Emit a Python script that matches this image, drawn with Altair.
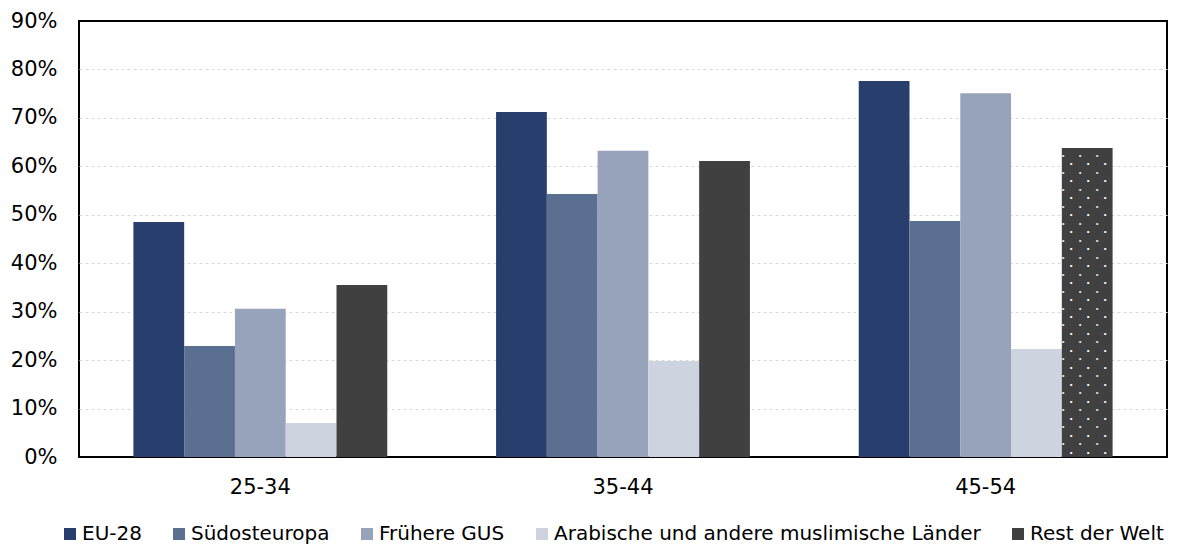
import altair as alt
import pandas as pd

groups = ["25-34", "35-44", "45-54"]
series = ["EU-28", "Südosteuropa", "Frühere GUS",
          "Arabische und andere muslimische Länder", "Rest der Welt"]
colors = ["#283f6e", "#5b6f91", "#96a3bb", "#cdd3df", "#404040"]

eu28 = [48.5, 71.2, 77.6]
suedost = [22.9, 54.3, 48.7]
gus = [30.6, 63.2, 75.1]
arab = [7.0, 19.8, 22.3]
rest = [35.5, 61.1, 63.8]

y_ticks = [0, 10, 20, 30, 40, 50, 60, 70, 80, 90]

# dotted texture marks the last "Rest der Welt" bar
dotted_group = "45-54"
dotted_series = "Rest der Welt"

FONT = "DejaVu Sans"
FS = 21

values = [eu28, suedost, gus, arab, rest]
rows = []
for s, vals in zip(series, values):
    for g, v in zip(groups, vals):
        rows.append({"group": g, "series": s, "value": v})
df = pd.DataFrame(rows)

xenc = alt.X("group:N", sort=groups, title=None,
             scale=alt.Scale(paddingInner=0.3, paddingOuter=0.15),
             axis=alt.Axis(labelAngle=0, labelFontSize=FS, labelFont=FONT,
                           labelColor="#000000", labelPadding=19,
                           ticks=False, domain=False))
xoff = alt.XOffset("series:N", sort=series,
                   scale=alt.Scale(domain=series, paddingInner=0, paddingOuter=0))

bars = alt.Chart(df).mark_bar().encode(
    x=xenc,
    xOffset=xoff,
    y=alt.Y("value:Q", title=None,
            scale=alt.Scale(domain=[0, 90], nice=False),
            axis=alt.Axis(values=y_ticks, labelExpr="datum.value + '%'",
                          labelFontSize=FS, labelFont=FONT, labelColor="#000000",
                          labelPadding=22, ticks=False, domain=False,
                          grid=True, gridColor="#d9d9d9", gridDash=[3, 3],
                          gridWidth=1,
                          gridOpacity={"condition": {"test": "datum.value == 0 || datum.value == 90",
                                                     "value": 0},
                                       "value": 1})),
    color=alt.Color("series:N", sort=series,
                    scale=alt.Scale(domain=series, range=colors),
                    legend=alt.Legend(title=None, orient="none", legendX=-19,
                                      legendY=503, direction="horizontal",
                                      symbolType="square", symbolSize=144,
                                      symbolStrokeWidth=0, labelFontSize=20,
                                      labelFont=FONT, labelColor="#000000",
                                      labelLimit=1000,
                                      columnPadding=27, labelOffset=2)),
)

# texture dots for the dotted bar
dot_val = float(df[(df.group == dotted_group) & (df.series == dotted_series)].value.iloc[0])
dot_rows = []
yv = 0.9
i = 0
while yv < dot_val - 0.4:
    dot_rows.append({"group": dotted_group, "series": dotted_series,
                     "y": yv, "parity": i % 2})
    yv += 1.75
    i += 1
dots = pd.DataFrame(dot_rows)

layers = [bars]
for parity, offsets, op in [(0, [-16, 1, 18], 1.0), (1, [-24, -7, 10], 0.85)]:
    sub = dots[dots.parity == parity]
    for d in offsets:
        layers.append(
            alt.Chart(sub).mark_text(text="•", fontSize=8, color="#ffffff",
                                     opacity=op, dx=d, baseline="middle",
                                     align="center")
            .encode(x=alt.X("group:N", sort=groups), xOffset=xoff,
                    y=alt.Y("y:Q"))
        )

chart = alt.layer(*layers).properties(
    width=1088, height=436, autosize="none",
    padding={"left": 71, "top": 13, "right": 4, "bottom": 88},
).configure_view(stroke="#000000", strokeWidth=2)

chart.save("out.html", embed_options={"renderer": "svg", "actions": False})
